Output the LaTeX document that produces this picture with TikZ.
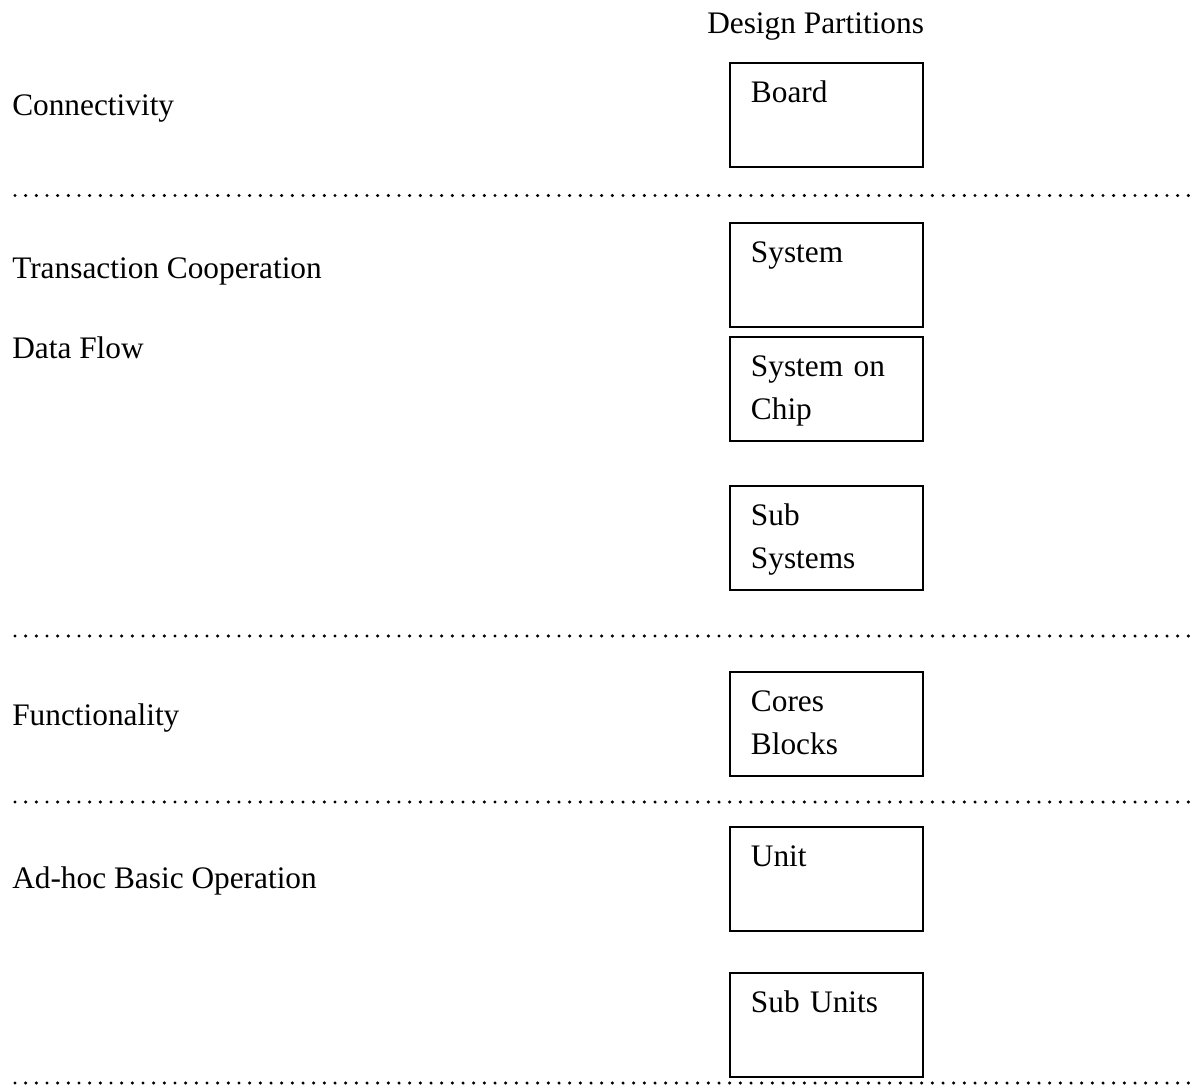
\documentclass[tikz,border=0pt]{standalone}
\usepackage{fontspec}
\setmainfont{Liberation Serif}
\usepackage{xcolor}
\usepackage{tikz}
\usetikzlibrary{positioning}

\tikzset{
  levellabel/.style={anchor=base west,inner sep=0pt,font=\fontsize{23.5}{32}\selectfont},
  partbox/.style={draw,line width=1.4pt,anchor=north west,align=left,
    font=\fontsize{23.5}{32}\selectfont,text width=113.25pt,inner xsep=15.75pt,inner ysep=14pt,
    text height=16pt,text depth=34pt},
  levelsep/.style={line width=2.6pt,line cap=round,dash pattern=on 0pt off 8pt}
}

\begin{document}
\begin{tikzpicture}[x=0.75pt,y=0.75pt,yscale=-1,xscale=1]
\useasboundingbox (0,0) rectangle (1196,1089);

%Straight Lines [level separators]
\draw [levelsep] (15,195.5) -- (1190,195.5) ;
%Straight Lines
\draw [levelsep] (15,636) -- (1190,636) ;
%Straight Lines
\draw [levelsep] (15,802) -- (1190,802) ;
%Straight Lines
\draw [levelsep] (15,1083) -- (1190,1083) ;

% Text Node
\node (title) [levellabel] at (707,33) {Design Partitions};
% Text Node
\node (connectivity) [levellabel] at (12,115) {Connectivity};
% Text Node
\node (transaction) [levellabel] at (12,278) {Transaction Cooperation};
% Text Node
\node (dataflow) [levellabel] at (12,358) {Data Flow};
% Text Node
\node (functionality) [levellabel] at (12,725) {Functionality};
% Text Node
\node (adhoc) [levellabel] at (12,888) {Ad-hoc Basic Operation};

%Shape: Rectangle
\node (board) [partbox] at (729,62) {Board};
%Shape: Rectangle
\node (system) [partbox] at (729,222) {System};
%Shape: Rectangle
\node (soc) [partbox] at (729,336) {System on\\Chip};
%Shape: Rectangle
\node (subsystems) [partbox] at (729,485) {Sub\\Systems};
%Shape: Rectangle
\node (cores) [partbox] at (729,671) {Cores\\Blocks};
%Shape: Rectangle
\node (unit) [partbox] at (729,826) {Unit};
%Shape: Rectangle
\node (subunits) [partbox] at (729,972) {Sub Units};

\end{tikzpicture}
\end{document}
